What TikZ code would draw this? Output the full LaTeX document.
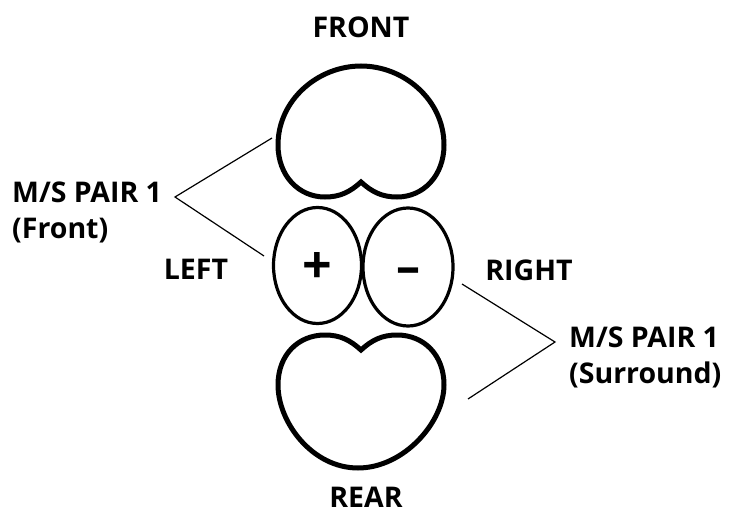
\documentclass[tikz,border=0pt]{standalone}
\usepackage{fontspec}
\setmainfont{Open Sans}
\tikzset{
  lobe/.style={line width=5pt},
  side/.style={line width=3.2pt},
  leader/.style={line width=1.2pt},
  lbl/.style={font=\fontsize{28.5}{36}\selectfont\bfseries,inner sep=0pt,anchor=base},
  pairlbl/.style={lbl,align=left,anchor=west}
}
\begin{document}
\begin{tikzpicture}[x=1pt,y=-1pt]
\useasboundingbox (0,0) rectangle (729,514);
% lobes
\draw[lobe] (361,182) .. controls (350,192) and (340,197) .. (325,197)
  .. controls (298,197) and (278,175) .. (278,145)
  .. controls (278,100) and (318,66) .. (361,66)
  .. controls (404,66) and (444,100) .. (444,145)
  .. controls (444,175) and (424,197) .. (397,197)
  .. controls (382,197) and (372,192) .. (361,182) -- cycle;
\draw[lobe] (361,350) .. controls (350,340) and (340,335) .. (325,335)
  .. controls (298,335) and (278,355) .. (278,385)
  .. controls (278,422) and (312,468) .. (358,468)
  .. controls (404,468) and (444,422) .. (444,385)
  .. controls (444,355) and (424,335) .. (397,335)
  .. controls (382,335) and (372,340) .. (361,350) -- cycle;
\draw[side] (317.5,265.5) ellipse (44 and 58);
\draw[side] (408,267) ellipse (45 and 59);
% labels
\node[lbl] (front) at (361,37) {FRONT};
\node[lbl] (rear) at (366,507) {REAR};
\node[lbl] (left) at (196,279) {LEFT};
\node[lbl] (right) at (529,280) {RIGHT};
\node[pairlbl] (pairfront) at (12,212) {M/S PAIR 1\\(Front)};
\node[pairlbl] (pairrear) at (569,357) {M/S PAIR 1\\(Surround)};
\node[lbl,font=\fontsize{52}{52}\selectfont\bfseries] (plus) at (317,283) {+};
\node[lbl,font=\fontsize{48}{48}\selectfont\bfseries] (minus) at (408,283) {–};
% leaders
\coordinate (fronta) at (272,138);
\coordinate (frontb) at (264,256);
\coordinate (fronttip) at (175,197);
\coordinate (reara) at (462,284);
\coordinate (rearb) at (468,399);
\coordinate (reartip) at (555,342);
\draw[leader] (fronta) -- (fronttip) -- (frontb);
\draw[leader] (reara) -- (reartip) -- (rearb);
\end{tikzpicture}
\end{document}
